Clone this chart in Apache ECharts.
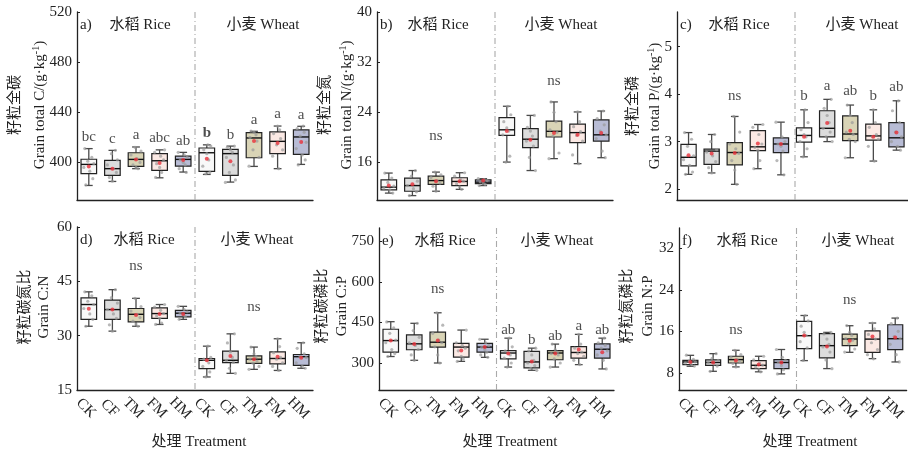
<!DOCTYPE html>
<html><head><meta charset="utf-8">
<script src="https://cdn.jsdelivr.net/npm/echarts@6/dist/echarts.min.js"></script>
<style>html,body{margin:0;padding:0;background:#fff}#c{width:908px;height:456px}</style>
</head><body><div id="c"></div>
<script>
// ---------------- DATA ----------------
const treatments = ['CK','CF','TM','FM','HM'];
const crops = ['水稻 Rice','小麦 Wheat'];
const boxColors = ['#f8f8f8','#dcdcdc','#d9d4b6','#fbe9e4','#b8bcd5'];

// box stats per box: [min, Q1, median, Q3, max]; order: rice CK..HM, wheat CK..HM
const boxA = [[381.6,391,398.4,402.5,411],[384.8,389.6,395,401.6,409.6],[395,396.8,402.4,407.7,412.3],[387.7,393.6,401.3,407,410],[392.3,397,402.4,405,408],
              [390.4,392.8,407.7,411.5,414],[384.3,389.6,407,410.4,413],[396.8,403.7,419.5,423.7,424.8],[395,407,416.8,424.3,429],[398.4,406.4,420.3,426,428.8]];
const meanA = [396.8,395,402.4,399.5,402,403,401,417,415.5,416.3];
const ptsA = [[411,404,401,399,396,393,387,382],[409.6,407,402,398,395,392,388,385],[412,409,406,403,400,398,396,395],[410,408,405,402,399,396,392,388],[408,406,404,402,400,398,395,392],
              [414,413,410,407,402,397,392,391],[413,412,410,408,404,398,392,386,384],[425,424,422,420,417,410,404,397],[429,426,423,419,414,410,405,395],[429,427,424,421,416,411,406,402,398]];
const lettersA = ['bc','c','a','abc','ab','b','b','a','a','a'];

const boxB = [[11.1,11.6,12.05,13.2,14.3],[10.7,11.4,12.3,13.5,14.7],[11.4,12.5,13.1,13.8,14.45],[11.7,12.3,12.96,13.55,14.35],[12.3,12.6,12.85,13.2,13.4],
              [16.05,20.3,21.2,23.15,24.96],[14.7,18.35,19.7,21.4,23.5],[16.6,20.05,20.96,22.6,25.65],[15.8,19.15,20.75,22.1,24.05],[16.75,19.4,20.4,22.8,24.2]];
const meanB = [12.3,12.5,13.0,13.0,13.1,21.0,19.6,20.7,20.4,20.7];
const ptsB = [[14.3,13.5,12.8,12.2,11.9,11.6,11.1],[14.7,13.8,13.0,12.3,11.8,11.3,10.7],[14.45,14.0,13.6,13.1,12.7,12.2,11.4],[14.35,13.8,13.3,13.0,12.6,12.1,11.7],[13.4,13.25,13.1,12.9,12.7,12.5,12.3],
              [24.96,23.6,22.5,21.5,21.0,20.4,17.0,16.05],[23.5,21.6,21.0,20.2,19.4,18.6,16.8,14.7],[25.65,24.0,22.5,21.2,20.8,20.2,17.5,16.6],[24.05,22.5,21.7,20.9,20.3,19.4,17.2,15.8],[24.2,23.0,22.0,21.0,20.4,19.8,17.8,16.75]];
const nsB = [[2,20.2],[7,29.0]];

const boxC = [[2.31,2.49,2.67,2.94,3.19],[2.34,2.52,2.80,2.84,3.15],[2.10,2.51,2.77,2.98,3.53],[2.43,2.81,2.89,3.23,3.36],[2.30,2.77,2.95,3.08,3.41],
              [2.68,2.99,3.13,3.29,3.67],[3.00,3.10,3.28,3.65,3.89],[2.66,3.02,3.16,3.54,3.77],[2.59,3.03,3.12,3.37,3.67],[2.82,2.89,3.08,3.40,3.86]];
const meanC = [2.71,2.75,2.76,2.96,2.95,3.10,3.39,3.23,3.10,3.19];
const ptsC = [[3.19,3.05,2.9,2.7,2.62,2.5,2.36,2.31],[3.15,3.0,2.83,2.78,2.7,2.58,2.45,2.34],[3.53,3.2,2.95,2.85,2.75,2.6,2.4,2.1],[3.36,3.3,3.15,2.95,2.88,2.82,2.6,2.43],[3.41,3.1,3.0,2.95,2.9,2.8,2.6,2.3],
              [3.67,3.4,3.25,3.15,3.1,3.0,2.85,2.68],[3.89,3.7,3.55,3.4,3.28,3.2,3.1,3.0],[3.77,3.55,3.4,3.2,3.15,3.05,3.0,2.66],[3.67,3.4,3.3,3.15,3.1,3.05,2.9,2.59],[3.86,3.65,3.4,3.2,3.1,3.0,2.9,2.82]];
const lettersC = ['','','','','','b','a','ab','b','ab'];
const nsC = [[2,3.96]];

const boxD = [[32.6,34.5,38.6,40.45,42.1],[31.25,34.5,37.2,39.8,42.7],[32.6,33.8,35.9,37.5,40.3],[33.1,34.75,36.1,37.7,38.6],[34.5,35.2,36.2,37.0,38.1],
              [18.6,20.9,23.2,23.7,27.1],[19.6,22.55,23.2,25.75,30.5],[20.7,22.35,23.5,24.4,26.85],[20.4,22.2,23.7,25.5,29.15],[21.0,21.8,24.2,24.8,28.05]];
const meanD = [37.4,37.2,35.7,36.0,36.0,23.2,24.4,23.5,24.2,23.9];
const ptsD = [[42.1,41.0,39.5,38.6,37.5,36.0,34.5,32.6],[42.7,40.5,39.0,37.2,36.0,34.8,33.0,31.25],[40.3,38.0,36.8,35.9,35.0,34.0,33.2,32.6],[38.6,37.9,37.0,36.1,35.5,34.8,33.5,33.1],[38.1,37.2,36.6,36.2,35.8,35.3,34.5],
              [27.1,24.0,23.5,23.2,22.5,21.5,20.0,18.6],[30.5,28.0,25.5,24.0,23.2,22.6,21.0,19.6],[26.85,25.0,24.2,23.5,23.0,22.4,21.5,20.7],[29.15,27.0,25.3,24.0,23.5,22.5,21.5,20.4],[28.05,26.5,25.0,24.3,24.0,22.5,21.5,21.0]];
const nsD = [[2,49.2],[7,37.8]];

const boxE = [[324,340,383,425,453],[310,349,371,404,447],[300,359,377,414,486],[306,322,359,373,422],[321,340,359,373,388],
              [285,315,337,346,392],[273,282,304,343,355],[285,312,337,346,370],[294,318,339,361,406],[278,318,351,371,392]];
const meanE = [383,370,383,346,359,335,306,335,350,340];
const ptsE = [[452,430,410,385,375,350,335,324],[447,420,395,375,365,350,330,310],[486,440,410,385,375,360,330,300],[422,375,365,355,345,325,315,306],[388,375,365,358,350,340,330,321],
              [392,360,345,338,330,318,300,285],[355,345,330,310,300,290,280,273],[370,350,340,335,330,315,300,285],[406,370,355,340,335,325,310,294],[392,375,365,355,345,330,310,278]];
const lettersE = ['','','','','','ab','b','ab','a','ab'];
const nsE = [[2,572]];

const boxF = [[9.27,9.6,10.1,10.42,11.38],[8.3,9.46,10.0,10.5,11.7],[9.15,9.9,10.55,11.2,12.35],[8.2,8.8,9.46,10.36,11.2],[7.8,8.8,10.0,10.55,12.5],
              [10.36,12.66,15.16,17.9,19.05],[8.82,10.87,13.24,15.54,15.8],[11.96,13.24,14.52,15.48,17.08],[10.74,11.96,14.5,16.1,17.6],[10.1,12.47,14.58,17.27,18.55]];
const meanF = [10.1,10.0,10.4,9.6,10.0,15.2,13.1,14.2,15.0,14.8];
const ptsF = [[11.4,10.6,10.3,10.1,9.9,9.6,9.3],[11.7,10.8,10.4,10.0,9.7,9.3,8.3],[12.35,11.5,11.0,10.6,10.2,9.8,9.15],[11.2,10.5,9.9,9.5,9.1,8.7,8.2],[12.5,11.0,10.4,10.0,9.4,8.6,7.8],
              [19.05,18.0,17.0,15.8,15.2,14.0,12.8,10.4],[15.8,15.5,14.5,13.5,13.0,12.0,10.5,8.8],[17.1,15.8,15.2,14.6,14.3,13.6,12.6,12.0],[17.6,16.5,15.4,14.5,13.8,12.5,11.5,10.7],[18.55,17.5,16.0,15.0,14.6,13.5,11.5,10.1]];
const nsF = [[2,16.2],[7,22.1]];

// axis tick labels
const ticksA = [400,440,480,520];
const ticksB = [16,24,32,40];
const ticksC = [2,3,4,5];
const ticksD = [15,30,45,60];
const ticksE = [300,450,600,750];
const ticksF = [8,16,24,32];

// ---------------- LAYOUT ----------------
const FONT = '"Liberation Serif","Times New Roman","Noto Sans CJK SC",serif';
const TXT = '#222';
const panels = [
  {lab:'a)', box:boxA, mean:meanA, pts:ptsA, letters:lettersA, bold:[5], ns:[], ymin:370, ymax:520, ticks:ticksA,
   cn:'籽粒全碳', en:'Grain total C/(g·kg', sup:true, grid:{left:77,top:12,width:236,height:188}, cnX:15, enX:40, tY:105, dist:4, bottom:false, gx:[63,186]},
  {lab:'b)', box:boxB, mean:meanB, pts:ptsB, letters:null, ns:nsB, ymin:10, ymax:40, ticks:ticksB,
   cn:'籽粒全氮', en:'Grain total N/(g·kg', sup:true, grid:{left:377,top:12,width:236,height:188}, cnX:325, enX:347, tY:105, dist:4, bottom:false, gx:[61,184]},
  {lab:'c)', box:boxC, mean:meanC, pts:ptsC, letters:lettersC, ns:nsC, ymin:1.77, ymax:5.73, ticks:ticksC,
   cn:'籽粒全磷', en:'Grain total P/(g·kg', sup:true, grid:{left:677,top:12,width:236,height:188}, cnX:633, enX:655, tY:106, dist:6, bottom:false, gx:[62,185]},
  {lab:'d)', box:boxD, mean:meanD, pts:ptsD, letters:null, ns:nsD, ymin:15, ymax:60, ticks:ticksD,
   cn:'籽粒碳氮比', en:'Grain C:N', sup:false, grid:{left:77,top:227,width:236,height:163}, cnX:25, enX:44, tY:307, dist:4, bottom:true, gx:[67,180], xt:199},
  {lab:'e)', box:boxE, mean:meanE, pts:ptsE, letters:lettersE, ns:nsE, ymin:200, ymax:800, ticks:ticksE,
   cn:'籽粒碳磷比', en:'Grain C:P', sup:false, grid:{left:379,top:228,width:235,height:162}, cnX:322, enX:342, tY:306, dist:1, bottom:true, gx:[66,178], xt:510},
  {lab:'f)', box:boxF, mean:meanF, pts:ptsF, letters:null, ns:nsF, ymin:4.7, ymax:35.9, ticks:ticksF,
   cn:'籽粒氮磷比', en:'Grain N:P', sup:false, grid:{left:679,top:228,width:235,height:162}, cnX:627, enX:648, tY:306, dist:4, bottom:true, gx:[68,179], xt:810}
];
const jitter = [-4, 3, -1, 5, -5, 1, 4, -3, 0, 2];

function renderBox(params, api) {
  const i = api.value(0);
  const c = v => api.coord([i, v]);
  const pMin = c(api.value(1)), pQ1 = c(api.value(2)), pMd = c(api.value(3)), pQ3 = c(api.value(4)), pMx = c(api.value(5));
  const x = pMd[0];
  const bw = api.size([1, 0])[0] * 0.66;
  const cw = bw * 0.5;
  const ls = {stroke:'#4a4a4a', lineWidth:1.3};
  return {type:'group', children:[
    {type:'line', shape:{x1:x,y1:pMx[1],x2:x,y2:pQ3[1]}, style:ls},
    {type:'line', shape:{x1:x,y1:pQ1[1],x2:x,y2:pMin[1]}, style:ls},
    {type:'line', shape:{x1:x-cw/2,y1:pMx[1],x2:x+cw/2,y2:pMx[1]}, style:ls},
    {type:'line', shape:{x1:x-cw/2,y1:pMin[1],x2:x+cw/2,y2:pMin[1]}, style:ls},
    {type:'rect', shape:{x:x-bw/2,y:pQ3[1],width:bw,height:pQ1[1]-pQ3[1]}, style:{fill:boxColors[i%5], stroke:'#222', lineWidth:1.2}},
    {type:'line', shape:{x1:x-bw/2,y1:pMd[1],x2:x+bw/2,y2:pMd[1]}, style:{stroke:'#111', lineWidth:1.4}}
  ]};
}

const grids = [], xAxes = [], yAxes = [], series = [], graphics = [];
const cats = [0,1,2,3,4,5,6,7,8,9];
panels.forEach((p, k) => {
  grids.push(p.grid);
  xAxes.push({type:'category', gridIndex:k, data:cats, boundaryGap:true,
    axisLine:{lineStyle:{color:'#222', width:1.3}},
    axisTick:{inside:true, length:3, alignWithLabel:true, lineStyle:{color:'#222'}},
    axisLabel:{show:p.bottom, formatter:v => treatments[v % 5], rotate:-45, align:'center', verticalAlign:'middle', margin:21,
      padding:[7,8,0,0], fontFamily:FONT, fontSize:15, color:TXT, interval:0},
    splitLine:{show:false}});
  yAxes.push({type:'value', gridIndex:k, min:p.ymin, max:p.ymax,
    axisLine:{show:true, lineStyle:{color:'#222', width:1.3}},
    axisTick:{show:true, inside:true, length:3, customValues:p.ticks, lineStyle:{color:'#222'}},
    axisLabel:{customValues:p.ticks, fontFamily:FONT, fontSize:15, color:TXT, margin:5},
    splitLine:{show:false}});
  series.push({type:'custom', xAxisIndex:k, yAxisIndex:k, renderItem:renderBox,
    encode:{x:0, y:[1,2,3,4,5]}, data:p.box.map((b,i) => [i].concat(b)), z:2});
  const pd = [];
  p.pts.forEach((arr, i) => arr.forEach((v, j) => pd.push({value:[i, v], symbolOffset:[jitter[(j + i) % jitter.length], 0]})));
  series.push({type:'scatter', xAxisIndex:k, yAxisIndex:k, data:pd, symbolSize:3.2,
    itemStyle:{color:'#9a9a9a', opacity:0.7}, z:3, silent:true});
  series.push({type:'scatter', xAxisIndex:k, yAxisIndex:k, data:p.mean.map((v,i) => [i, v]), symbolSize:4,
    itemStyle:{color:'#e8303a'}, z:4, silent:true});
  const ann = [];
  if (p.letters) p.letters.forEach((t, i) => { if (t) ann.push({value:[i, p.box[i][4]], name:t,
      label:{position:'top', distance:p.dist, fontWeight:(p.bold && p.bold.includes(i)) ? 'bold' : 'normal'}}); });
  p.ns.forEach(([i, v]) => ann.push({value:[i, v], name:'ns', label:{position:'inside'}}));
  series.push({type:'scatter', xAxisIndex:k, yAxisIndex:k, data:ann, symbolSize:0, z:5, silent:true,
    label:{show:true, formatter:'{b}', fontFamily:FONT, fontSize:15, color:TXT}});

  const g = p.grid;
  graphics.push({type:'line', shape:{x1:g.left + g.width/2, y1:g.top, x2:g.left + g.width/2, y2:g.top + g.height},
    style:{stroke:'#aaa', lineWidth:1.1, lineDash:[6,3,1,3]}, z:1});
  const ty = g.top + 13;
  graphics.push({type:'text', x:g.left + 3, y:ty, style:{text:p.lab, font:'15px ' + FONT, fill:TXT, textAlign:'left', textVerticalAlign:'middle'}});
  crops.forEach((c, ci) => graphics.push({type:'text', x:g.left + p.gx[ci], y:ty,
    style:{text:c, font:'15px ' + FONT, fill:TXT, textAlign:'center', textVerticalAlign:'middle'}}));
  graphics.push({type:'text', x:p.cnX, y:p.tY, rotation:Math.PI/2,
    style:{text:p.cn, font:'15px ' + FONT, fill:TXT, textAlign:'center', textVerticalAlign:'middle'}});
  const enText = p.sup ? '{a|' + p.en + '}{s|-1}{a|)}' : '{a|' + p.en + '}';
  graphics.push({type:'text', x:p.enX, y:p.tY, rotation:Math.PI/2,
    style:{text:enText, fill:TXT, textAlign:'center', textVerticalAlign:'middle',
      rich:{a:{fontFamily:FONT, fontSize:15, lineHeight:17, fill:TXT, color:TXT}, s:{fontFamily:FONT, fontSize:10, lineHeight:17, verticalAlign:'top', fill:TXT, color:TXT}}}});
  if (p.bottom) graphics.push({type:'text', x:p.xt, y:442,
    style:{text:'处理 Treatment', font:'15px ' + FONT, fill:TXT, textAlign:'center', textVerticalAlign:'middle'}});
});

const chart = echarts.init(document.getElementById('c'), null, {renderer:'canvas'});
chart.setOption({animation:false, backgroundColor:'#fff', grid:grids, xAxis:xAxes, yAxis:yAxes, series:series, graphic:{elements:graphics}});
</script></body></html>
